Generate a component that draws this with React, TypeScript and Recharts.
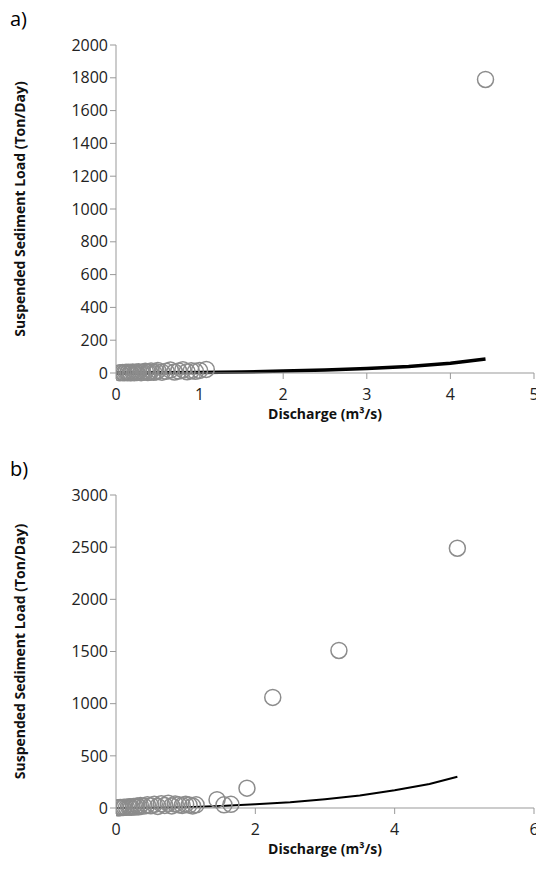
import { ComposedChart, Scatter, Line, XAxis, YAxis, Label } from 'recharts';

// panel a
const obsQA = [0.05, 0.08, 0.1, 0.12, 0.14, 0.15, 0.17, 0.18, 0.2, 0.22, 0.24, 0.25, 0.27, 0.3, 0.32, 0.35, 0.38, 0.4, 0.42, 0.45, 0.48, 0.5, 0.55, 0.6, 0.65, 0.7, 0.75, 0.8, 0.85, 0.9, 0.95, 1.0, 1.08, 4.42];
const obsLA = [2, 3, 1, 4, 2, 5, 3, 1, 6, 2, 4, 3, 8, 2, 5, 10, 3, 6, 12, 4, 8, 15, 5, 10, 18, 6, 12, 20, 8, 14, 10, 16, 22, 1790];
const fitQA = [0, 0.5, 1, 1.5, 2, 2.5, 3, 3.5, 4, 4.42];
const fitLA = [0, 1, 3, 6, 12, 18, 28, 40, 60, 85];

// panel b
const obsQB = [0.03, 0.05, 0.07, 0.1, 0.12, 0.15, 0.18, 0.2, 0.22, 0.25, 0.28, 0.3, 0.33, 0.35, 0.4, 0.45, 0.5, 0.55, 0.6, 0.65, 0.7, 0.75, 0.8, 0.85, 0.9, 0.95, 1.0, 1.05, 1.1, 1.15, 1.45, 1.55, 1.65, 1.88, 2.25, 3.2, 4.9];
const obsLB = [2, 3, 5, 4, 8, 6, 10, 12, 7, 15, 9, 20, 12, 25, 18, 30, 22, 35, 15, 40, 25, 45, 20, 38, 30, 25, 35, 28, 20, 30, 80, 30, 35, 190, 1060, 1510, 2490];
const fitQB = [0, 0.5, 1, 1.5, 2, 2.5, 3, 3.5, 4, 4.5, 4.9];
const fitLB = [0, 2, 8, 18, 35, 55, 85, 120, 170, 230, 300];

const font = "'Open Sans', Arial, sans-serif";

const Ring = (p: any) => (
  <circle cx={p.cx} cy={p.cy} r={8} fill="none" stroke="#8c8c8c" strokeWidth={1.5} />
);

function Panel({ tag, qs, ls, fq, fl, xMax, xTicks, yMax, yTicks, height, top, bottom, lineW }: any) {
  const obs = qs.map((q: number, i: number) => ({ q, l: ls[i] }));
  const fit = fq.map((q: number, i: number) => ({ q, f: fl[i] }));
  return (
    <div style={{ position: 'relative', width: 536, height }}>
      <div style={{ position: 'absolute', left: 2, top: top - 40, fontFamily: font, fontSize: 20 }}>{tag}</div>
      <ComposedChart width={536} height={height} margin={{ top, right: 10, bottom, left: 46 }}>
        <XAxis type="number" dataKey="q" domain={[0, xMax]} ticks={xTicks} stroke="#999" tick={{ fill: '#222', fontSize: 16, fontFamily: font }} tickSize={6} tickMargin={10} allowDataOverflow>
          <Label value="Discharge (m³/s)" position="bottom" offset={6} style={{ fontWeight: 'bold', fontSize: 14, fill: '#111', fontFamily: font }} />
        </XAxis>
        <YAxis type="number" domain={[0, yMax]} ticks={yTicks} stroke="#999" tick={{ fill: '#222', fontSize: 16, fontFamily: font }} tickSize={6} width={62} interval={0}>
          <Label value="Suspended Sediment  Load (Ton/Day)" angle={-90} position="insideLeft" offset={-34} style={{ textAnchor: 'middle', fontWeight: 'bold', fontSize: 14, fill: '#111', fontFamily: font }} />
        </YAxis>
        <Scatter data={obs} dataKey="l" shape={Ring} isAnimationActive={false} />
        <Line data={fit} dataKey="f" type="linear" stroke="#000" strokeWidth={lineW} dot={false} isAnimationActive={false} />
      </ComposedChart>
    </div>
  );
}

export default function App() {
  return (
    <div style={{ width: 536 }}>
      <Panel tag="a)" qs={obsQA} ls={obsLA} fq={fitQA} fl={fitLA} xMax={5} xTicks={[0, 1, 2, 3, 4, 5]} yMax={2000}
        yTicks={[0, 200, 400, 600, 800, 1000, 1200, 1400, 1600, 1800, 2000]} height={430} top={37} bottom={35} lineW={3.5} />
      <Panel tag="b)" qs={obsQB} ls={obsLB} fq={fitQB} fl={fitLB} xMax={6} xTicks={[0, 2, 4, 6]} yMax={3000}
        yTicks={[0, 500, 1000, 1500, 2000, 2500, 3000]} height={441} top={57} bottom={41} lineW={2} />
    </div>
  );
}
